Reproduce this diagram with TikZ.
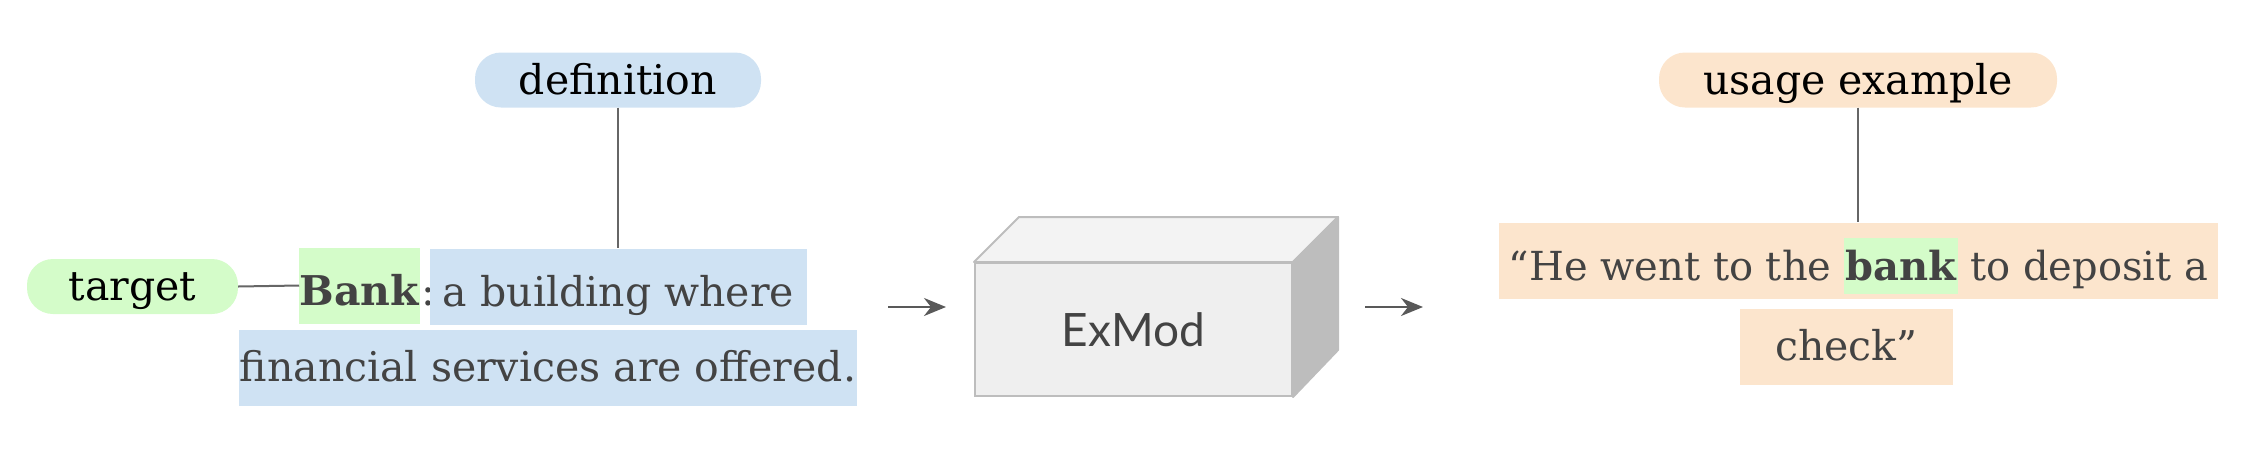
\documentclass[tikz,border=0pt]{standalone}
\usepackage{fontspec}
\setmainfont{DejaVu Serif}
\newfontfamily\boxfont{Lato}
\usetikzlibrary{arrows.meta}

\definecolor{hlblue}{HTML}{CFE2F3}
\definecolor{hlgreen}{HTML}{D4FCC9}
\definecolor{hlpeach}{HTML}{FCE5CD}
\definecolor{txtgray}{HTML}{434343}
\definecolor{linegray}{HTML}{666666}
\definecolor{arrowgray}{HTML}{595959}
\definecolor{boxedge}{HTML}{BDBDBD}
\definecolor{boxfront}{HTML}{EFEFEF}
\definecolor{boxtop}{HTML}{F3F3F3}
\definecolor{boxside}{HTML}{BDBDBD}

\newcommand\hlword[1]{{\setlength{\fboxsep}{0pt}\colorbox{hlgreen}{\rule[-13pt]{0pt}{56pt}\hspace{1pt}\textbf{#1}\hspace{1pt}}}}

\begin{document}
\begin{tikzpicture}[
        x=1pt, y=-1pt,
        tag/.style={
            rectangle,
            rounded corners=26pt,
            inner sep=0pt,
            minimum height=55pt,
            text height=32pt,
            text depth=4pt,
            font=\fontsize{41}{48}\selectfont
        },
        hl/.style={
            rectangle,
            inner sep=0pt,
            minimum height=76pt,
            text=txtgray,
            font=\fontsize{41}{48}\selectfont
        },
        firstline/.style={text height=44pt, text depth=4pt},
        secondline/.style={text height=30pt, text depth=4pt},
        cubefront/.style={
            rectangle,
            draw=boxedge,
            fill=boxfront,
            line width=2pt,
            text=txtgray,
            font=\boxfont\fontsize{46}{50}\selectfont
        },
        cubeface/.style={draw=boxedge, line width=2pt, line join=round},
        link/.style={draw=linegray, line width=2pt},
        arrow/.style={draw=arrowgray, line width=2.5pt,
            -{Stealth[length=22pt, width=18pt, inset=7pt]}}
    ]
    \useasboundingbox (0,0) rectangle (2261,464);

    % Nodes
    \node (definition) [tag, fill=hlblue, minimum width=286pt] at (618,80) {definition};

    \node (target) [tag, fill=hlgreen, minimum width=211pt] at (132.5,286.5) {target};

    \node (bank) [hl, firstline, fill=hlgreen, minimum width=115pt] at (359.5,285.5) {\textbf{Bank}};

    \node (colon) [hl, firstline, anchor=west, inner xsep=2pt] at (bank.east) {:};

    \node (gloss1) [hl, firstline, fill=hlblue, minimum width=377pt] at (618.5,286.5) {a building where};

    \node (gloss2) [hl, secondline, fill=hlblue, minimum width=618pt] at (548,368) {financial services are offered.};

    \node (exmod) [cubefront, minimum width=317pt, minimum height=133pt] at (1133.5,329.5) {ExMod};

    \node (usage) [tag, fill=hlpeach, minimum width=398pt] at (1858,80) {usage example};

    \node (example1) [hl, firstline, fill=hlpeach, minimum width=719pt, font=\fontsize{40}{48}\selectfont] at (1858.5,260.5) {“He went to the \hlword{bank} to deposit a};

    \node (example2) [hl, secondline, fill=hlpeach, minimum width=213pt] at (1846.5,347) {check”};

    % Cube faces
    \draw[cubeface, fill=boxtop] (exmod.north west) -- ++(45,-45) -- ([shift={(45pt,45pt)}]exmod.north east) -- (exmod.north east) -- cycle;
    \draw[cubeface, fill=boxside] (exmod.north east) -- ++(45,-45) -- ++(0,133) -- (exmod.south east) -- cycle;

    % Links
    \draw[link] (definition.south) -- (definition.south |- gloss1.north);
    \draw[link] (target.east) -- (bank.west);
    \draw[link] (usage.south) -- (usage.south |- example1.north);

    % Arrows
    \coordinate (in1) at (888,307);
    \coordinate (out1) at (946,307);
    \coordinate (in2) at (1365,307);
    \coordinate (out2) at (1423,307);
    \draw[arrow] (in1) -- (out1);
    \draw[arrow] (in2) -- (out2);

    \end{tikzpicture}
\end{document}
